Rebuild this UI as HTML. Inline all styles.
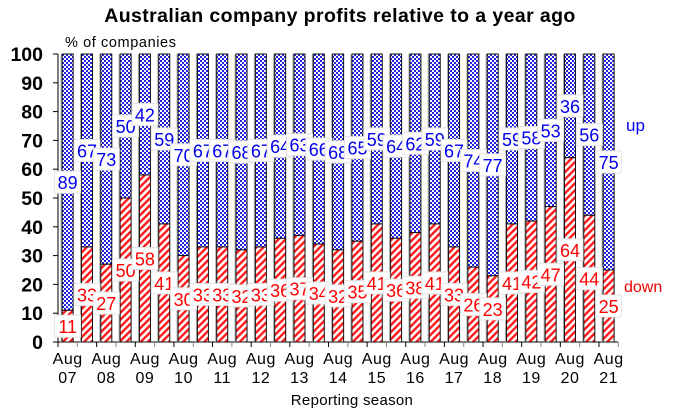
<!DOCTYPE html>
<html><head><meta charset="utf-8"><style>
html,body{margin:0;padding:0;background:#fff;}
svg{display:block;font-family:"Liberation Sans",Arial,sans-serif;}
</style></head><body>
<svg id="c" width="678" height="413" xmlns="http://www.w3.org/2000/svg">
<defs>
<pattern id="chk" width="4" height="4" patternUnits="userSpaceOnUse">
<rect width="4" height="4" fill="#fff"/><rect width="2" height="2" fill="#2222dd"/><rect x="2" y="2" width="2" height="2" fill="#2222dd"/>
</pattern>
<pattern id="hat" width="5" height="5" patternUnits="userSpaceOnUse" patternTransform="rotate(45)">
<rect width="5" height="5" fill="#fff"/><rect width="2.4" height="5" fill="#ff1a1a"/>
</pattern>
</defs>
<text x="340" y="22" text-anchor="middle" font-size="19.5" font-weight="bold" letter-spacing="0.4">Australian company profits relative to a year ago</text>
<text x="65" y="47" font-size="14.5" letter-spacing="0.6">% of companies</text>
<text x="352" y="405" text-anchor="middle" font-size="15" letter-spacing="0.3">Reporting season</text>
<text x="626" y="131" font-size="17" fill="#0000ee">up</text>
<text x="624" y="292" font-size="16" fill="#ee0000">down</text>
<g id="g"></g>
</svg>
<script>
var down=[11,33,27,50,58,41,30,33,33,32,33,36,37,34,32,35,41,36,38,41,33,26,23,41,42,47,64,44,25];
var g=document.getElementById('g'),s='';
var y0=342,k=2.88,x0=58,w=19.32;
for(var v=0;v<=100;v+=10){var y=y0-v*k;s+='<text x="43" y="'+(y+7)+'" text-anchor="end" font-size="19.5" font-weight="bold">'+v+'</text><line x1="53" x2="58" y1="'+y+'" y2="'+y+'" stroke="#000"/>';}
s+='<line x1="58" x2="58" y1="54" y2="342" stroke="#000"/><line x1="58" x2="618" y1="342" y2="342" stroke="#000"/>';
for(var i=0;i<29;i++){
 var cx=x0+w*(i+0.5),bx=cx-5.5,d=down[i];
 var yd=y0-d*k,yt=y0-100*k;
 s+='<rect x="'+(bx-1.5)+'" y="'+yt+'" width="11" height="'+(y0-yt)+'" fill="#aaa"/>';
 s+='<rect x="'+bx+'" y="'+yt+'" width="11" height="'+(yd-yt)+'" fill="url(#chk)" stroke="#111" stroke-width="1"/>';
 s+='<rect x="'+bx+'" y="'+yd+'" width="11" height="'+(y0-yd)+'" fill="url(#hat)" stroke="#111" stroke-width="1"/>';
}
for(var i=0;i<=29;i++){var tx=x0+w*i;s+='<line x1="'+tx+'" x2="'+tx+'" y1="342" y2="347" stroke="'+(i%2?'#888':'#000')+'"/>';}
for(var i=0;i<29;i++){
 var cx=x0+w*(i+0.5),d=down[i],u=100-d;
 var yl=y0-(d/2)*k,yu=y0-(d+u/2)*k;
 s+='<rect x="'+(cx-13)+'" y="'+(yl-11)+'" width="26" height="22" fill="#fff" stroke="#e4e4e4"/><text x="'+cx+'" y="'+(yl+7)+'" text-anchor="middle" font-size="18" fill="#ff0000">'+d+'</text>';
 s+='<rect x="'+(cx-13)+'" y="'+(yu-11)+'" width="26" height="22" fill="#fff" stroke="#e4e4e4"/><text x="'+cx+'" y="'+(yu+7)+'" text-anchor="middle" font-size="18" fill="#0000ee">'+u+'</text>';
}
for(var i=0;i<29;i+=2){var cx=x0+w*(i+0.5);var yy=(7+i/2);yy=(yy<10?'0':'')+yy;
 s+='<text x="'+cx+'" y="364" text-anchor="middle" font-size="16" letter-spacing="0.5">Aug</text><text x="'+cx+'" y="383" text-anchor="middle" font-size="16" letter-spacing="0.5">'+yy+'</text>';}
g.innerHTML=s;
</script>
</body></html>
